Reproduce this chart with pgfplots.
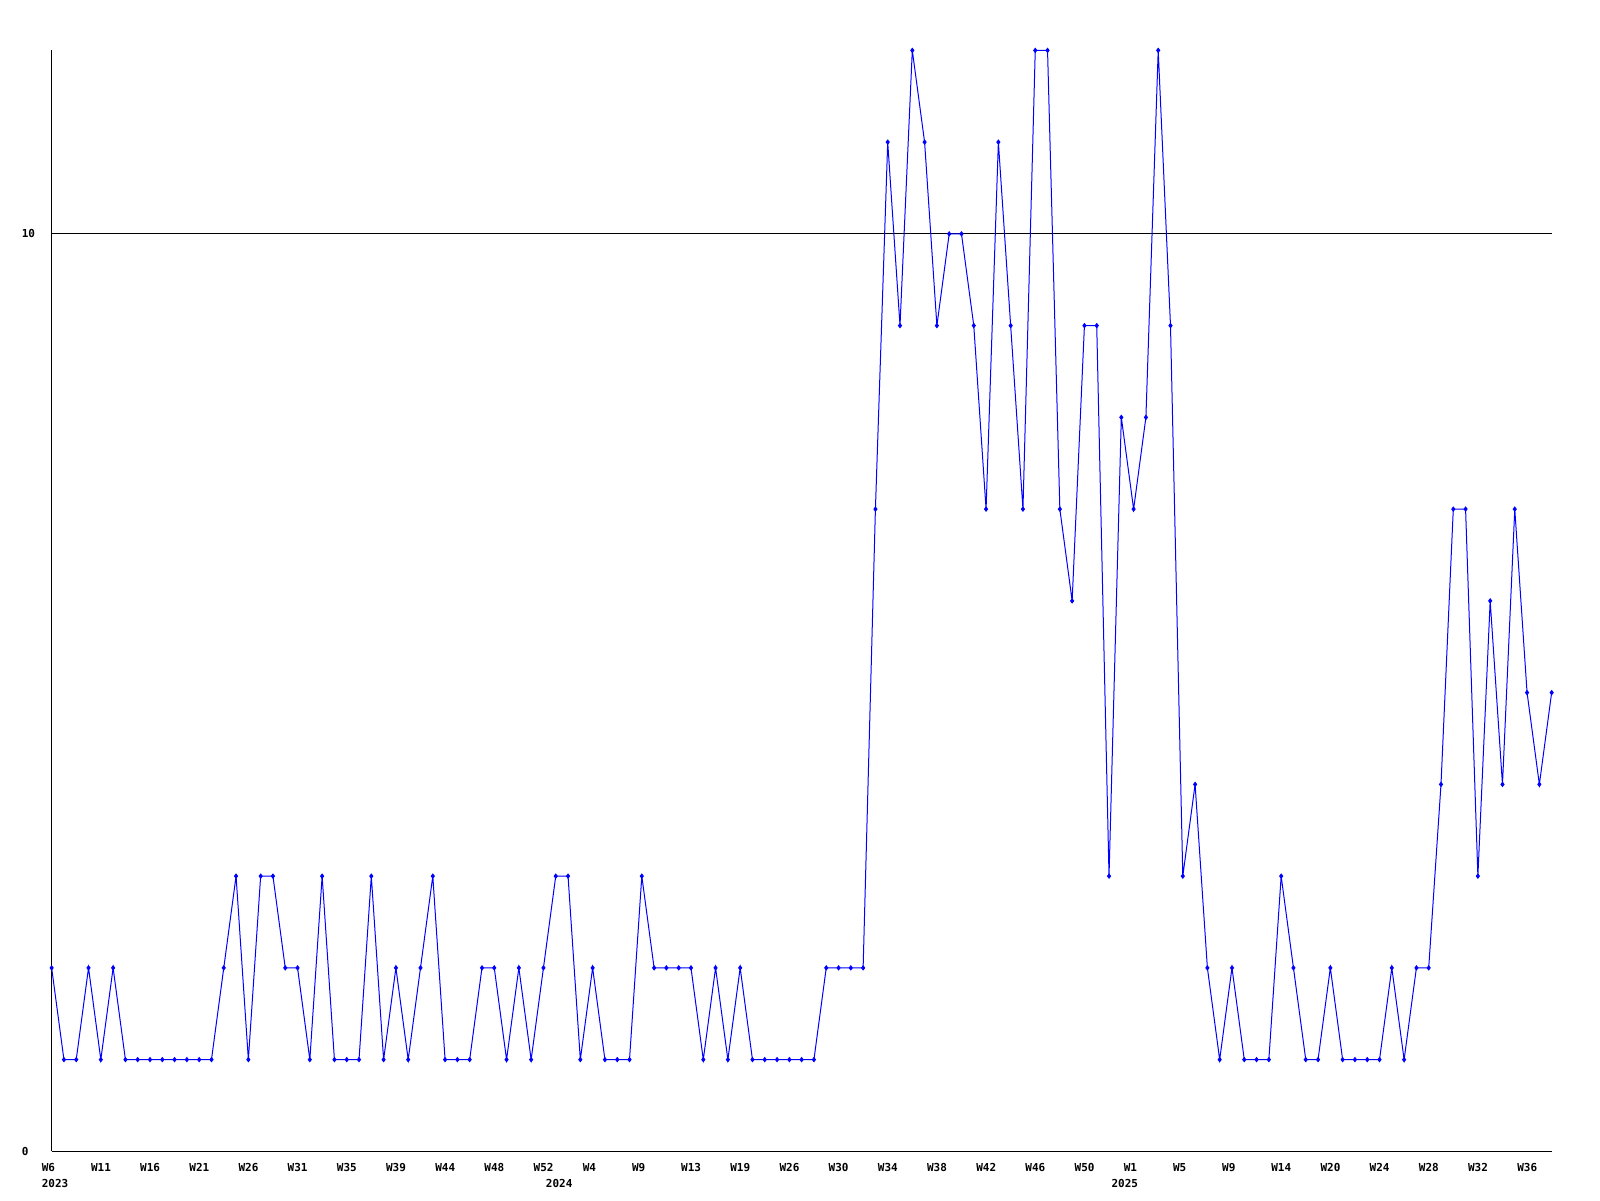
\documentclass[border=0pt]{standalone}
\usepackage{pgfplots}
\pgfplotsset{compat=1.18}
\usepackage{fontspec}
\newfontfamily\labfont{DejaVu Sans Mono}

% weekly counts, one value per point
\pgfplotstableread{
x y
1 2
2 1
3 1
4 2
5 1
6 2
7 1
8 1
9 1
10 1
11 1
12 1
13 1
14 1
15 2
16 3
17 1
18 3
19 3
20 2
21 2
22 1
23 3
24 1
25 1
26 1
27 3
28 1
29 2
30 1
31 2
32 3
33 1
34 1
35 1
36 2
37 2
38 1
39 2
40 1
41 2
42 3
43 3
44 1
45 2
46 1
47 1
48 1
49 3
50 2
51 2
52 2
53 2
54 1
55 2
56 1
57 2
58 1
59 1
60 1
61 1
62 1
63 1
64 2
65 2
66 2
67 2
68 7
69 11
70 9
71 12
72 11
73 9
74 10
75 10
76 9
77 7
78 11
79 9
80 7
81 12
82 12
83 7
84 6
85 9
86 9
87 3
88 8
89 7
90 8
91 12
92 9
93 3
94 4
95 2
96 1
97 2
98 1
99 1
100 1
101 3
102 2
103 1
104 1
105 2
106 1
107 1
108 1
109 1
110 2
111 1
112 2
113 2
114 4
115 7
116 7
117 3
118 6
119 4
120 7
121 5
122 4
123 5
}\weekdata

\begin{document}
\begin{tikzpicture}[x=1pt,y=1pt]
\path[use as bounding box] (0,0) rectangle (1600,1200);
\begin{axis}[
  at={(42,53)}, anchor=south west,
  scale only axis,
  width=1500pt, height=1101pt,
  xmin=1, xmax=123, ymin=0, ymax=12,
  axis lines*=left,
  axis line style={black, line width=1pt, -},
  major tick length=0pt,
  ytick={0,10}, yticklabels={0,10},
  ymajorgrids, grid style={black, line width=1pt},
  xtick={1,5,...,121},
  xticklabels={W6,W11,W16,W21,W26,W31,W35,W39,W44,W48,W52,W4,W9,W13,W19,W26,W30,W34,W38,W42,W46,W50,W1,W5,W9,W14,W20,W24,W28,W32,W36},
  ticklabel style={font=\labfont\bfseries\fontsize{11}{13}\selectfont, inner sep=0pt},
  xticklabel style={anchor=north west, xshift=-10pt, yshift=-12pt},
  yticklabel style={anchor=west, xshift=-30pt},
  clip=false,
]
\addplot[blue, line width=1pt, mark=diamond*, mark size=2pt] table[x=x, y=y] {\weekdata};
\node[anchor=north west, inner sep=0pt, xshift=-10pt, yshift=-28pt, font=\labfont\bfseries\fontsize{11}{13}\selectfont] at (axis cs:1,0) {2023};
\node[anchor=north west, inner sep=0pt, xshift=-10pt, yshift=-28pt, font=\labfont\bfseries\fontsize{11}{13}\selectfont] at (axis cs:42,0) {2024};
\node[anchor=north west, inner sep=0pt, xshift=-10pt, yshift=-28pt, font=\labfont\bfseries\fontsize{11}{13}\selectfont] at (axis cs:88,0) {2025};
\end{axis}
\end{tikzpicture}
\end{document}
